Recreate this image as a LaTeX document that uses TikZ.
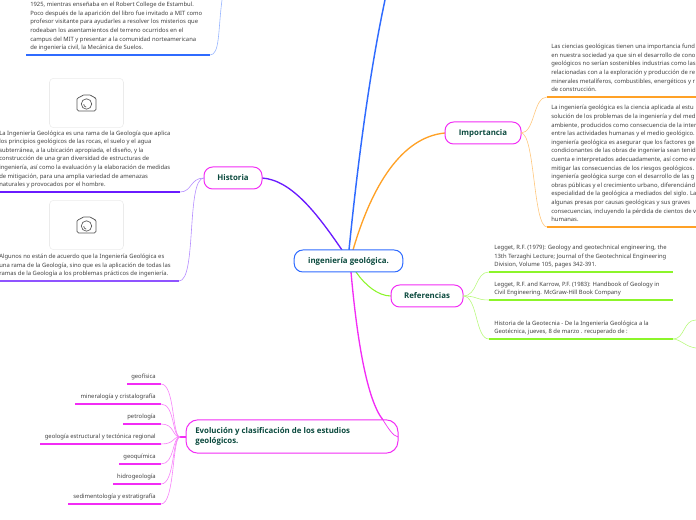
\documentclass[tikz,border=0pt]{standalone}
\usepackage{fontspec}
\setmainfont{Noto Sans}
\newfontfamily\hdfont{Open Sans}
\definecolor{tx}{HTML}{404040}
\definecolor{hd}{HTML}{0B4A3E}
\definecolor{cblue}{HTML}{2F6BFF}
\definecolor{cpur}{HTML}{6A1BFF}
\definecolor{corg}{HTML}{FFA126}
\definecolor{cgrn}{HTML}{8CF52A}
\definecolor{cmag}{HTML}{F22CF5}
\tikzset{
 x=0.75pt,y=-0.75pt,
 topic/.style={draw=cmag,line width=0.75pt,rounded corners=6.5pt,fill=white,font=\hdfont\fontsize{5.9pt}{7.9pt}\selectfont\bfseries,text=hd,inner sep=0pt,anchor=center,minimum height=16.5pt},
 para/.style={font=\fontsize{4.4pt}{6.45pt}\selectfont,text=tx,align=left,anchor=south west,inner sep=0pt,text depth=1.2pt},
 parar/.style={font=\fontsize{4.4pt}{6.45pt}\selectfont,text=tx,anchor=base east,inner sep=0pt},
 under/.style={line width=1.1pt},
 link/.style={line width=0.45pt},
 photo/.style={draw=black!8,rounded corners=3pt,line width=0.4pt,minimum width=55.5pt,minimum height=37pt,inner sep=0pt},
}
\begin{document}
\begin{tikzpicture}
\path[use as bounding box] (0,0) rectangle (696,520);
\clip (0,0) rectangle (696,520);
% main branches
\coordinate (ct) at (349,250);
\coordinate (topexit) at (385,0);
\draw[cblue,line width=1.1pt] (ct) .. controls (358,160) and (370,70) .. (topexit);
\draw[corg,line width=1pt] (353,250) .. controls (372,185) and (402,137) .. (445,133);
\draw[cpur,line width=1pt] (342,250) .. controls (318,215) and (292,180) .. (262,178);
\draw[cgrn,line width=0.8pt] (356,272) .. controls (365,285) and (378,296) .. (391,296);
\draw[cmag,line width=1pt] (351,272) .. controls (357,340) and (367,400) .. (383,420);
% topics
\node[topic,draw=cblue,minimum width=81.5pt] (root) at (348.5,261) {ingeniería geológica.};
\node[topic,minimum width=43.5pt] (hist) at (233,178) {Historia};
\node[topic,minimum width=57pt] (imp) at (483,133) {Importancia};
\node[topic,minimum width=54pt] (ref) at (427,296) {Referencias};
\node[topic,minimum width=159pt,minimum height=25pt,rounded corners=9pt] (evo) at (292,436.5) {\begin{minipage}{145pt}\hspace*{0pt}Evolución y clasificación de los estudios\\ geológicos.\end{minipage}};
\draw[cmag,line width=0.5pt] (383,420) .. controls (388,428) and (393,436) .. (398,437);
% Historia details
\draw[cblue!50,link] (222,0) .. controls (218,30) and (220,55) .. (210,55);
\draw[cblue,under] (26,55) -- (210,55);
\node[para] at (30,51.6) {1925, mientras enseñaba en el Robert College de Estambul.\\
Poco después de la aparición del libro fue invitado a MIT como\\
profesor visitante para ayudarles a resolver los misterios que\\
rodeaban los asentamientos del terreno ocurridos en el\\
campus del MIT y presentar a la comunidad norteamericana\\
de ingeniería civil, la Mecánica de Suelos.};
\node[photo] (ph1) at (86.5,103) {};
\node[photo] (ph2) at (86.5,225) {};
\foreach \p in {ph1,ph2}{
 \begin{scope}[shift={(\p)},draw=black!65,line width=0.5pt]
 \draw[rounded corners=1.2pt] (-9.5,-5.5) -- (-6,-5.5) -- (-4.5,-8) -- (5,-8) -- (6.5,-5.5) -- (9.5,-5.5) -- (9.5,8) -- (-9.5,8) -- cycle;
 \draw (0,1) circle[radius=5.2];
 \draw (-2.8,1.2) arc[start angle=180,end angle=100,radius=3];
 \end{scope}
}
\draw[cpur!50,link] (204,178) .. controls (190,178) and (192,192) .. (180,192);
\draw[cpur,under] (0,192) -- (180,192);
\node[para] at (-1,188.6) {La Ingeniería Geológica es una rama de la Geología que aplica\\
los principios geológicos de las rocas, el suelo y el agua\\
subterránea, a la ubicación apropiada, el diseño, y la\\
construcción de una gran diversidad de estructuras de\\
ingeniería, así como la evaluación y la elaboración de medidas\\
de mitigación, para una amplia variedad de amenazas\\
naturales y provocados por el hombre.};
\draw[cpur!50,link] (204,178) .. controls (186,178) and (197,281) .. (179,281);
\draw[cpur!75,under] (0,281) -- (179,281);
\node[para] at (-1,277.6) {Algunos no están de acuerdo que la Ingeniería Geológica es\\
una rama de la Geología, sino que es la aplicación de todas las\\
ramas de la Geología a los problemas prácticos de ingeniería.};
% Importancia details
\draw[corg!60,link] (521,133) .. controls (535,133) and (533,97) .. (547,97);
\draw[corg,under] (547,97) -- (696,97);
\node[para] at (551,93.6) {Las ciencias geológicas tienen una importancia fund\\
en nuestra sociedad ya que sin el desarrollo de cono\\
geológicos no serían sostenibles industrias como las\\
relacionadas con a la exploración y producción de re\\
minerales metalíferos, combustibles, energéticos y r\\
de construcción.};
\draw[corg!60,link] (521,133) .. controls (535,133) and (533,227) .. (547,227);
\draw[corg,under] (547,227) -- (696,227);
\node[para] at (551,223.6) {La ingeniería geológica es la ciencia aplicada al estu\\
solución de los problemas de la ingeniería y del med\\
ambiente, producidos como consecuencia de la inter\\
entre las actividades humanas y el medio geológico.\\
ingeniería geológica es asegurar que los factores ge\\
condicionantes de las obras de ingeniería sean tenid\\
cuenta e interpretados adecuadamente, así como ev\\
mitigar las consecuencias de los riesgos geológicos.\\
ingeniería geológica surge con el desarrollo de las g\\
obras públicas y el crecimiento urbano, diferenciánd\\
especialidad de la geológica a mediados del siglo. La\\
algunas presas por causas geológicas y sus graves\\
consecuencias, incluyendo la pérdida de cientos de v\\
humanas.};
% Referencias details
\draw[cgrn!60,link] (463,296) .. controls (478,296) and (475,272) .. (489,272);
\draw[cgrn,under] (489,272) -- (673,272);
\node[para] at (494,268.6) {Legget, R.F. (1979): Geology and geotechnical engineering, the\\
13th Terzaghi Lecture; Journal of the Geotechnical Engineering\\
Division, Volume 105, pages 342-391.};
\draw[cgrn!60,link] (463,296) .. controls (478,296) and (475,300) .. (489,300);
\draw[cgrn,under] (489,300) -- (673,300);
\node[para] at (494,296.6) {Legget, R.F. and Karrow, P.F. (1983): Handbook of Geology in\\
Civil Engineering. McGraw-Hill Book Company};
\draw[cgrn!60,link] (463,296) .. controls (478,296) and (475,339) .. (489,339);
\draw[cgrn,under] (489,339) -- (673,339);
\node[para] at (494,335.6) {Historia de la Geotecnia - De la Ingeniería Geológica a la\\
Geotécnica, jueves, 8 de marzo . recuperado de :};
\draw[cgrn!60,link] (673,339) .. controls (685,339) and (683,320) .. (696,320);
\draw[cgrn!60,link] (673,339) .. controls (680,339) and (686,347) .. (696,348);
% Evolucion details
\coordinate (ej) at (186,437);
\draw[cmag,line width=0.9pt] (ej) -- (180,437);
\foreach \y/\xa/\t in {384/127/geofísica,404/75/mineralogía y cristalografía,424/123/petrología,444/40/geología estructural y tectónica regional,464/119/geoquímica,484/113/hidrogeología,504/68/sedimentología y estratigrafía}{
 \draw[cmag!60,link] (180,437) .. controls (172,437) and (175,\y) .. (161,\y);
 \draw[cmag,under] (\xa,\y) -- (161,\y);
 \node[parar] at (156,\y-6) {\t};
}
\end{tikzpicture}
\end{document}
